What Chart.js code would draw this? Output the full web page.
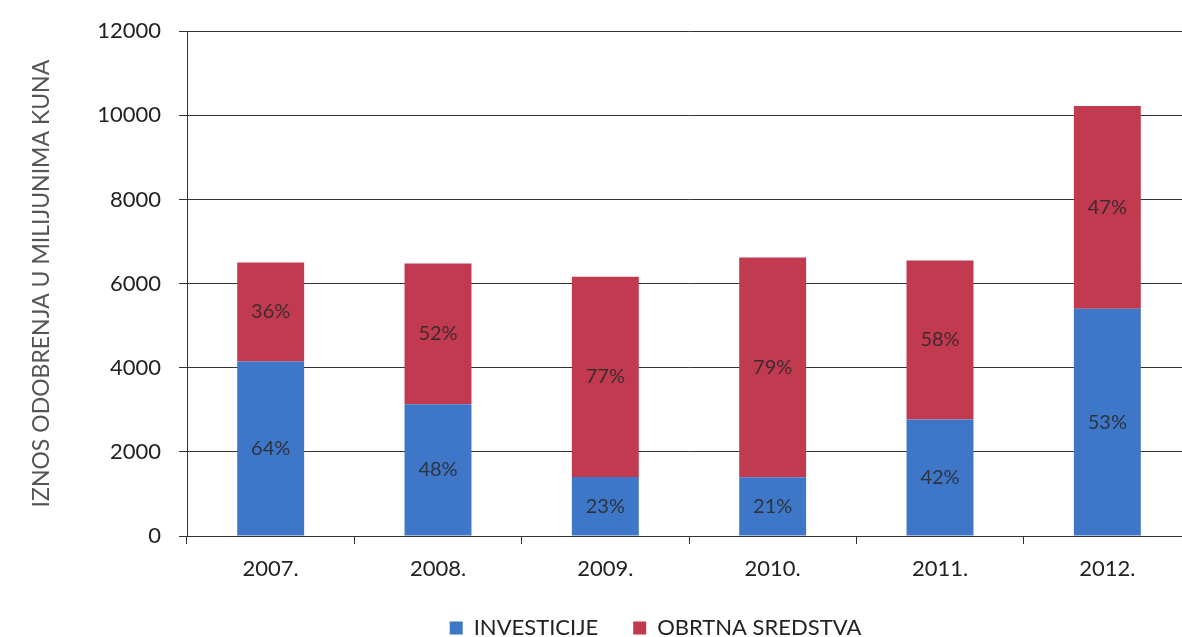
<!DOCTYPE html>
<html>
<head>
<meta charset="utf-8">
<script src="https://cdn.jsdelivr.net/npm/chart.js@4.4.0/dist/chart.umd.min.js"></script>
<style>
  html, body { margin: 0; padding: 0; background: #fff; overflow: hidden; }
  #wrap { width: 1191px; height: 637px; }
</style>
</head>
<body>
<div id="wrap"><canvas id="myChart"></canvas></div>
<script>
  const years = ['2007.', '2008.', '2009.', '2010.', '2011.', '2012.'];
  // iznosi u milijunima kuna, procijenjeno sa slike
  const investicije = [4150, 3130, 1405, 1395, 2770, 5400];
  const obrtnaSredstva = [2350, 3350, 4755, 5225, 3780, 4820];
  const yTicks = [0, 2000, 4000, 6000, 8000, 10000, 12000];

  const fontName = 'Lato';

  // postotak svakog dijela stupca, upisan u sredinu segmenta
  const percentLabels = {
    id: 'percentLabels',
    afterDatasetsDraw(chart) {
      const ctx = chart.ctx;
      ctx.save();
      ctx.font = '20px ' + fontName;
      ctx.fillStyle = 'rgba(40,40,40,0.85)';
      ctx.textAlign = 'center';
      ctx.textBaseline = 'middle';
      chart.data.datasets.forEach((ds, di) => {
        const meta = chart.getDatasetMeta(di);
        meta.data.forEach((bar, i) => {
          const total = investicije[i] + obrtnaSredstva[i];
          const pct = Math.round(ds.data[i] / total * 100);
          ctx.fillText(pct + '%', bar.x, (bar.y + bar.base) / 2);
        });
      });
      ctx.restore();
    }
  };

  // legenda je u originalu malo desno od sredine i nisko
  const legendShift = {
    id: 'legendShift',
    afterLayout(chart) {
      const l = chart.legend;
      l.left += 60; l.right += 60;
      l.top -= 12; l.bottom -= 12;
    }
  };

  const data = {
    labels: years,
    datasets: [{
      label: 'INVESTICIJE',
      data: investicije,
      backgroundColor: '#3f77c8'
    }, {
      label: 'OBRTNA SREDSTVA',
      data: obrtnaSredstva,
      backgroundColor: '#c13a50'
    }]
  };

  const config = {
    type: 'bar',
    data: data,
    options: {
      responsive: true,
      maintainAspectRatio: false,
      animation: false,
      layout: { padding: { top: 28, right: 0, bottom: -24, left: 0 } },
      datasets: { bar: { categoryPercentage: 1, barPercentage: 0.4 } },
      plugins: {
        tooltip: { enabled: false },
        legend: {
          position: 'bottom',
          labels: {
            boxWidth: 13, boxHeight: 13, padding: 35,
            color: '#222',
            font: { family: fontName, size: 22 }
          }
        }
      },
      scales: {
        x: {
          stacked: true,
          grid: { drawOnChartArea: false, color: '#333', tickLength: 8 },
          border: { color: '#333' },
          ticks: { color: '#222', padding: 12, font: { family: fontName, size: 22 } },
          afterFit(scale) { scale.height = 58; }
        },
        y: {
          stacked: true,
          min: 0, max: 12000,
          afterBuildTicks(scale) { scale.ticks = yTicks.map(v => ({ value: v })); },
          grid: { color: '#333', tickLength: 8 },
          border: { color: '#333' },
          ticks: {
            color: '#222', padding: 18,
            font: { family: fontName, size: 22 },
            callback: v => String(v)
          },
          title: {
            display: true,
            text: 'IZNOS ODOBRENJA U MILIJUNIMA KUNA',
            color: '#555',
            padding: { top: 28, bottom: 0 },
            font: { family: fontName, size: 23 }
          },
          afterFit(scale) { scale.width = 187; }
        }
      }
    },
    plugins: [percentLabels, legendShift]
  };

  const myChart = new Chart(document.getElementById('myChart'), config);
</script>
</body>
</html>
